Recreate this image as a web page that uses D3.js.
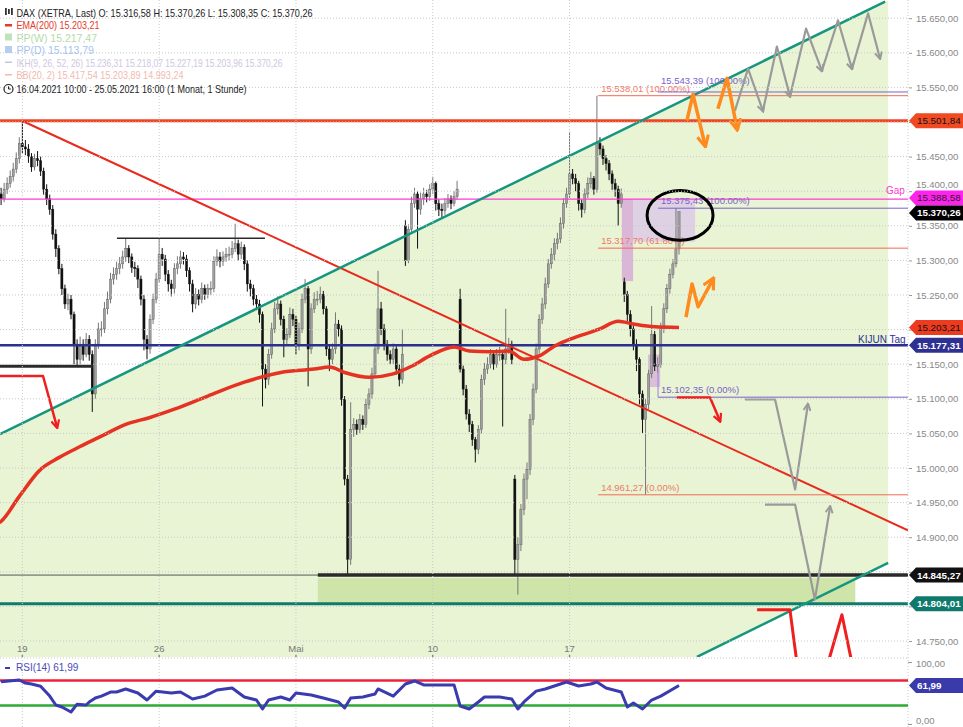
<!DOCTYPE html>
<html><head><meta charset="utf-8">
<script src="https://cdn.jsdelivr.net/npm/d3@7"></script>
<style>body{margin:0;background:#fff}svg{display:block;font-family:"Liberation Sans",Arial,sans-serif}</style>
</head><body><svg id="c" width="963" height="727"></svg>
<script>
// ---------- DATA ----------
const closes=[15382,15396,15389,15403,15411,15421,15432,15447,15469,15464,
15461,15450,15435,15447,15444,15429,15403,15389,15374,15338,
15317,15288,15259,15237,15244,15222,15179,15157,15179,15164,
15186,15164,15107,15179,15201,15201,15230,15244,15273,15280,
15288,15295,15305,15317,15305,15290,15288,15273,15244,15186,
15172,15215,15244,15273,15309,15302,15280,15266,15259,15288,
15295,15305,15302,15285,15266,15237,15251,15244,15259,15251,
15259,15259,15299,15305,15299,15305,15309,15309,15317,15324,
15309,15319,15295,15266,15259,15244,15237,15222,15143,15128,
15164,15201,15230,15237,15215,15186,15193,15222,15215,15179,
15201,15244,15259,15172,15230,15244,15244,15251,15230,15172,
15157,15172,15208,15201,15099,14984,14868,15056,15063,15056,
15070,15063,15092,15107,15136,15172,15230,15201,15179,15164,
15157,15172,15143,15128,15164,15300,15345,15382,15396,15374,
15389,15396,15392,15403,15411,15382,15374,15372,15382,15389,
15382,15392,15403,15143,15114,15078,15063,15041,15027,15056,
15128,15143,15150,15164,15150,15164,15164,15157,15172,15179,
15157,14868,14889,14940,14984,14998,15070,15114,15172,15215,
15237,15266,15295,15309,15324,15331,15353,15382,15396,15425,
15418,15411,15382,15374,15396,15411,15418,15403,15469,15461,
15447,15440,15425,15411,15403,15382,15396,15251,15222,15201,
15179,15157,15107,15070,15092,15136,15193,15147,15150,15201,
15230,15259,15280,15295,15316.58,15370.26];
const highs=[15392,15404,15405,15412,15420,15430,15441,15456,15478,15502,
15474,15468,15455,15454,15458,15450,15434,15410,15395,15380,
15345,15322,15295,15265,15252,15250,15226,15186,15190,15186,
15195,15192,15170,15186,15210,15212,15240,15255,15282,15290,
15298,15305,15314,15331,15322,15310,15298,15293,15278,15250,
15192,15222,15252,15282,15331,15318,15308,15286,15272,15296,
15306,15314,15312,15308,15290,15272,15260,15258,15268,15265,
15266,15270,15306,15316,15312,15313,15318,15320,15328,15353,
15330,15327,15323,15300,15272,15265,15250,15243,15226,15150,
15172,15210,15240,15248,15242,15220,15202,15232,15230,15220,
15210,15252,15273,15263,15238,15254,15256,15262,15256,15234,
15178,15180,15225,15214,15206,15104,14990,15095,15072,15070,
15078,15076,15100,15115,15145,15180,15285,15240,15208,15185,
15170,15180,15176,15150,15201,15358,15352,15392,15405,15400,
15398,15405,15402,15410,15421,15414,15388,15382,15390,15396,
15394,15400,15415,15259,15148,15120,15085,15068,15045,15062,
15135,15152,15160,15172,15170,15172,15175,15170,15230,15188,
15184,14990,14900,14948,14992,15008,15078,15122,15180,15222,
15246,15275,15302,15318,15332,15340,15362,15390,15405,15486,
15432,15425,15415,15388,15404,15420,15428,15422,15538.01,15478,
15466,15452,15445,15430,15418,15408,15404,15275,15256,15228,
15206,15186,15160,15112,15100,15142,15234,15198,15160,15210,
15238,15266,15288,15302,15375.43,15370.26];
const lows=[15368,15375,15380,15384,15396,15405,15414,15426,15440,15455,
15452,15441,15428,15430,15436,15422,15395,15380,15366,15330,
15305,15280,15250,15230,15228,15215,15150,15148,15150,15155,
15160,15155,15081,15100,15172,15190,15195,15222,15238,15265,
15272,15280,15288,15298,15296,15282,15276,15260,15235,15170,
15157,15165,15208,15238,15268,15292,15270,15255,15248,15252,
15280,15288,15294,15276,15255,15225,15230,15235,15238,15243,
15245,15250,15254,15292,15290,15292,15298,15300,15303,15312,
15300,15302,15286,15255,15248,15235,15228,15210,15089,15115,
15120,15158,15195,15222,15206,15160,15178,15188,15205,15164,
15170,15195,15238,15118,15165,15224,15235,15238,15222,15162,
15140,15150,15165,15190,15090,14975,14846,14860,15045,15048,
15050,15055,15058,15085,15100,15130,15165,15192,15170,15155,
15150,15150,15135,15118,15122,15292,15296,15340,15376,15317,
15366,15380,15384,15386,15396,15372,15364,15362,15366,15376,
15374,15378,15388,15138,15105,15070,15052,15032,15008,15020,
15050,15120,15136,15144,15142,15145,15155,15060,15150,15165,
15150,14846,14817,14880,14932,14955,14990,15062,15108,15165,
15208,15230,15260,15288,15300,15316,15325,15346,15376,15390,
15410,15400,15372,15362,15368,15390,15404,15395,15398,15452,
15438,15430,15416,15402,15392,15350,15376,15240,15212,15190,
15170,15140,15092,15050,14961.27,15085,15130,15140,15138,15145,
15195,15224,15252,15274,15290,15308.35];
// opening prices that differ from the previous close (gaps)
const gapOpenIdx=[0,135,153,171,207];
const gapOpenVal=[15375,15350,15244,14984,15269];

// EMA(200) read at bar positions
const emaIdx=[0,2,8,15,21,28,35,43,51,59,70,82,94,105,110,115,123,131,137,143,151,156,163,169,174,179,184,191,199,205,210,217,225];
const emaVal=[14918,14923,14959,14998,15015,15031,15046,15063,15073,15085,15104,15124,15138,15143,15146,15138,15131,15136,15147,15162,15175,15169,15168,15169,15157,15162,15176,15189,15201,15212,15208,15204,15203.21];

// RSI(14)
const rsiIdx=[2,8,10,12,15,18,20,22,25,27,30,31,33,35,38,40,43,47,50,53,58,61,65,69,73,78,82,86,88,90,94,97,99,104,108,113,115,117,121,125,126,131,135,138,141,146,151,153,156,159,161,166,170,172,174,178,181,184,188,192,196,198,201,206,208,210,213,216,219,225];
const rsiVal=[68,71,66,64.5,61,45,30.6,27.4,19.4,32,30.6,35.5,42,45,51.6,51.6,56.5,50,38.7,53,50,51.6,40.3,45,54.8,58,43.5,38.7,24.2,38.7,43.5,38.7,50,46.8,42,35.5,25.8,42,43.5,48.4,56.5,45,64.5,69.4,63,63,63,29,24.2,35.5,43.5,43.5,40.3,24.2,35.5,53,56.5,61.3,67.7,61.3,64.5,67.7,58,51.6,27.4,33.9,24.2,38.7,45,61.99];
const rsiLevels=[70,30];

// axes
const priceTicks=[15650,15600,15550,15500,15450,15400,15350,15300,15250,15200,15150,15100,15050,15000,14950,14900,14850,14800,14750];
const xTickIdx=[9,54,99,144,189];
const xTickLabels=["19","26","Mai","10","17"];

// horizontal levels
const levelVal=[15501.84,15388.58,15177.31,14804.01];
const levelColor=["#f04523","#ff3ad6","#2b2f8f","#0f7b6c"];
const levelWidth=[3,1.2,2.5,3];
const supportVal=14845.27, supportFromIdx=106.2;
// right-edge value boxes
const boxVal=[15501.84,15388.58,15370.26,15203.21,15177.31,14845.27,14804.01];
const boxBg=["#f04a23","#ff22ee","#000","#ec3b1f","#2e3192","#111","#0f7a6b"];
const boxFg=["#111","#222","#fff","#111","#fff","#fff","#fff"];

// trend lines [idx, price]
const redTrend=[[8.88,15501.84],[300.3,14910]];
const tealUpper=[[1.64,15049],[292.8,15674]];
const tealLower=[[230.9,14727],[293.8,14863]];
const channelFill=[[-3,15039],[293.8,15676],[293.8,14863],[-3,14221]];
const bandArea={i0:106.2,i1:283,p0:14841,p1:14804};
const leftSupport=[[-3,15147],[32.2,15147]];
const rangeTop=[[40.1,15332],[88.8,15332]];

// fibonacci levels
const fibRedVal=[15538.01,15317.70,14961.27];
const fibRedLbl=["15.538,01 (100.00%)","15.317,70 (61.80%)","14.961,27 (0.00%)"];
const fibRedFrom=198.4;
const fibPurVal=[15543.39,15375.43,15102.35];
const fibPurLbl=["15.543,39 (100.00%)","15.375,43 (100.00%)","15.102,35 (0.00%)"];
const fibPurFrom=218.1;

// shaded zones [i0,i1,p0,p1]
const zones=[[206.2,209.9,15388.58,15270],[209.9,230.3,15388.58,15327],[214.8,218.8,15164,15117]];
const zoneColor=["#d6a3d8","#dcc6ea","#d7aedb"];

// hand drawn arrows [idx, price]
const redArrows=[[[1.64,15133],[15.8,15133],[20.4,15059]],[[224.3,15102],[235.2,15102],[238.5,15068]]];
const redLines=[[[250.7,14795],[261.5,14795],[263.8,14718]],[[274,14718],[278.6,14788],[281.9,14718]]];
const grayArrows=[[[246.7,15099],[256.6,15099],[263.2,14969],[267.4,15092]],[[253.3,14947],[263.2,14947],[269.7,14810],[274.7,14944]]];
const grayZig=[[[243.4,15516],[247.7,15577],[252.6,15516]],[[252.6,15516],[257.2,15609],[261.5,15537]],[[261.5,15537],[266.8,15635],[272,15574]],[[272,15574],[277.3,15647],[281.9,15577]],[[281.9,15577],[287.2,15657],[291.1,15592]]];
const orangeArrows=[[[227.6,15502],[229.6,15540],[233.6,15466]],[[237.8,15519],[240.8,15563],[244.1,15490]],[[227.3,15218],[229.3,15266],[231.3,15233],[236.2,15273]]];
const ellipseBox=[214.5,236.2,15401,15329];

// ---------- DRAW ----------
const svg=d3.select("#c");
const plotR=908, plotB=657;
const x=d3.scaleLinear().domain([0,225]).range([-5,679]);
const y=d3.scaleLinear().domain([14750,15650]).range([641,18.2]);
const yr=d3.scaleLinear().domain([0,100]).range([724,662]);
const fmt=d3.formatLocale({decimal:",",thousands:".",grouping:[3],currency:["",""]}).format(",.2f");
const defs=svg.append("defs");
defs.append("clipPath").attr("id","cm").append("rect").attr("x",0).attr("y",0).attr("width",plotR).attr("height",plotB);
defs.append("clipPath").attr("id","cr").append("rect").attr("x",0).attr("y",659).attr("width",plotR).attr("height",68);
function mk(id,color){defs.append("marker").attr("id",id).attr("viewBox","0 0 10 10").attr("refX",8).attr("refY",5)
 .attr("markerWidth",4).attr("markerHeight",4).attr("orient","auto").append("path").attr("d","M1,1L9,5L1,9")
 .attr("fill","none").attr("stroke",color).attr("stroke-width",2.2).attr("stroke-linejoin","miter");}
mk("mRed","#f01e1e");mk("mGray","#9a9a9a");mk("mOr","#ff8a1e");

svg.append("rect").attr("width",963).attr("height",727).attr("fill","#fff");
const g=svg.append("g").attr("clip-path","url(#cm)");
const pl=d3.line().x(d=>x(d[0])).y(d=>y(d[1]));

// channel fill
g.append("path").attr("d",pl(channelFill)+"Z").attr("fill","#e8f4d4");
// band
g.append("rect").attr("x",x(bandArea.i0)).attr("y",y(bandArea.p0)).attr("width",x(bandArea.i1)-x(bandArea.i0))
 .attr("height",y(bandArea.p1)-y(bandArea.p0)).attr("fill","#cfe4a8");
// grid
const grid=svg.append("g").attr("stroke","#c9c9c9").attr("stroke-dasharray","1,2").attr("stroke-width",1);
priceTicks.forEach(p=>grid.append("line").attr("x1",0).attr("x2",plotR).attr("y1",y(p)).attr("y2",y(p)));
xTickIdx.forEach(i=>grid.append("line").attr("x1",x(i)).attr("x2",x(i)).attr("y1",0).attr("y2",727));
grid.append("line").attr("x1",plotR).attr("x2",plotR).attr("y1",0).attr("y2",727);
grid.append("line").attr("x1",0).attr("x2",plotR).attr("y1",658).attr("y2",658);
// zones
zones.forEach((z,k)=>g.append("rect").attr("x",x(z[0])).attr("y",y(z[2])).attr("width",x(z[1])-x(z[0]))
 .attr("height",y(z[3])-y(z[2])).attr("fill",zoneColor[k]).attr("opacity",0.75));

// candles
const gapMap=new Map(gapOpenIdx.map((d,k)=>[d,gapOpenVal[k]]));
const bars=closes.map((c,i)=>({i,c,h:highs[i],l:lows[i],o:gapMap.has(i)?gapMap.get(i):closes[i-1]}));
const cg=g.append("g");
cg.selectAll("line").data(bars).join("line").attr("x1",d=>x(d.i)).attr("x2",d=>x(d.i))
 .attr("y1",d=>y(d.h)).attr("y2",d=>y(d.l)).attr("stroke",d=>d.c>=d.o?"#777":"#111").attr("stroke-width",1);
cg.selectAll("rect").data(bars).join("rect").attr("x",d=>x(d.i)-1.1).attr("width",2.2)
 .attr("y",d=>y(Math.max(d.o,d.c))).attr("height",d=>Math.max(1,Math.abs(y(d.o)-y(d.c))))
 .attr("fill",d=>d.c>=d.o?"#a0a0a0":"#111").attr("stroke",d=>d.c>=d.o?"#555":"#111").attr("stroke-width",0.4);

// support lines
g.append("line").attr("x1",0).attr("x2",plotR).attr("y1",y(supportVal)).attr("y2",y(supportVal)).attr("stroke","#555").attr("stroke-width",1);
g.append("line").attr("x1",x(supportFromIdx)).attr("x2",plotR).attr("y1",y(supportVal)).attr("y2",y(supportVal)).attr("stroke","#2a2a2a").attr("stroke-width",3.5);
g.append("path").attr("d",pl(leftSupport)).attr("stroke","#2a2a2a").attr("stroke-width",3).attr("fill","none");
g.append("path").attr("d",pl(rangeTop)).attr("stroke","#2a2a2a").attr("stroke-width",1.6).attr("fill","none");
// levels
levelVal.forEach((v,k)=>g.append("line").attr("x1",0).attr("x2",plotR).attr("y1",y(v)).attr("y2",y(v))
 .attr("stroke",levelColor[k]).attr("stroke-width",levelWidth[k]));
// trend lines
g.append("path").attr("d",pl(redTrend)).attr("stroke","#e8291c").attr("stroke-width",2).attr("fill","none");
g.append("path").attr("d",pl(tealUpper)).attr("stroke","#17967f").attr("stroke-width",2.5).attr("fill","none");
g.append("path").attr("d",pl(tealLower)).attr("stroke","#17967f").attr("stroke-width",2.5).attr("fill","none");
// EMA
g.append("path").datum(emaIdx.map((d,k)=>[d,emaVal[k]])).attr("d",d3.line().x(d=>x(d[0])).y(d=>y(d[1])).curve(d3.curveMonotoneX))
 .attr("stroke","#e53222").attr("stroke-width",3.5).attr("fill","none");

// fib lines
fibRedVal.forEach((v,k)=>{g.append("line").attr("x1",x(fibRedFrom)).attr("x2",plotR).attr("y1",y(v)).attr("y2",y(v)).attr("stroke","#f26a55").attr("stroke-width",1);
 g.append("text").attr("x",x(fibRedFrom)+3).attr("y",y(v)-4).text(fibRedLbl[k]).attr("fill","#f07a66").attr("font-size",9.5);});
fibPurVal.forEach((v,k)=>{g.append("line").attr("x1",x(fibPurFrom)).attr("x2",plotR).attr("y1",y(v)).attr("y2",y(v)).attr("stroke","#7b62c8").attr("stroke-width",1);
 g.append("text").attr("x",x(fibPurFrom)+3).attr("y",y(v)-(k===0?8:4)).text(fibPurLbl[k]).attr("fill","#7b62c8").attr("font-size",9.5);});
g.append("line").attr("x1",x(fibPurFrom)).attr("x2",x(fibPurFrom)).attr("y1",y(fibPurVal[2])-26).attr("y2",y(fibPurVal[2])).attr("stroke","#9a86d6").attr("stroke-width",1);

// arrows
const drawP=(pts,color,w,m)=>{const p=g.append("path").attr("d",pl(pts)).attr("stroke",color).attr("stroke-width",w).attr("fill","none").attr("stroke-linejoin","round");if(m)p.attr("marker-end",`url(#${m})`);return p;};
redArrows.forEach(a=>drawP(a,"#f01e1e",2.5,"mRed"));
redLines.forEach(a=>drawP(a,"#f01e1e",3,null));
grayArrows.forEach(a=>drawP(a,"#9a9a9a",2.2,"mGray"));
grayZig.forEach(a=>drawP(a,"#9a9a9a",2.2,"mGray"));
orangeArrows.forEach(a=>drawP(a,"#ff8a1e",3.5,"mOr"));
// ellipse
g.append("ellipse").attr("cx",(x(ellipseBox[0])+x(ellipseBox[1]))/2).attr("cy",(y(ellipseBox[2])+y(ellipseBox[3]))/2)
 .attr("rx",(x(ellipseBox[1])-x(ellipseBox[0]))/2).attr("ry",(y(ellipseBox[3])-y(ellipseBox[2]))/2)
 .attr("fill","none").attr("stroke","#000").attr("stroke-width",3);
// in-chart labels
g.append("text").attr("x",886).attr("y",y(15388.58)-5).text("Gap").attr("fill","#ff33cc").attr("font-size",10);
g.append("text").attr("x",858).attr("y",y(15177.31)-2.5).text("KIJUN Tag").attr("fill","#2e3192").attr("font-size",10);

// legend
const lg=svg.append("g").attr("font-size",10.5);
const leg=[{t:"DAX (XETRA, Last)  O: 15.316,58  H: 15.370,26  L: 15.308,35  C: 15.370,26",c:"#222",w:296},
{t:"EMA(200)  15.203,21",c:"#e53a2a",w:83},
{t:"PP(W)  15.217,47",c:"#b4dbab",w:0},
{t:"PP(D)  15.113,79",c:"#a7c3f0",w:0},
{t:"IKH(9, 26, 52, 26)  15.236,31  15.218,07  15.227,19  15.203,96  15.370,26",c:"#cfc6e0",w:266},
{t:"BB(20, 2)  15.417,54  15.203,89  14.993,24",c:"#f2b9b0",w:167},
{t:"16.04.2021 10:00 - 25.05.2021 16:00   (1 Monat, 1 Stunde)",c:"#222",w:230}];
const legY=[16.5,29,41.5,54,66.5,79,92.5];
leg.forEach((d,k)=>{const t=lg.append("text").attr("x",16.5).attr("y",legY[k]).text(d.t).attr("fill",d.c);if(d.w)t.attr("textLength",d.w).attr("lengthAdjust","spacingAndGlyphs");});
// legend icons
[5,8,11].forEach((xx,k)=>lg.append("rect").attr("x",xx).attr("y",8+k%2).attr("width",1.8).attr("height",7-k%2*2).attr("fill","#333"));
lg.append("rect").attr("x",5).attr("y",24).attr("width",7).attr("height",2.5).attr("fill","#e53a2a");
lg.append("rect").attr("x",5).attr("y",33.5).attr("width",7).attr("height",7).attr("fill","#bfe3b6");
lg.append("rect").attr("x",5).attr("y",46).attr("width",7).attr("height",7).attr("fill","#b5cdf3");
lg.append("rect").attr("x",5).attr("y",61.5).attr("width",7).attr("height",1.5).attr("fill","#c6c6d6");
lg.append("rect").attr("x",5).attr("y",74).attr("width",7).attr("height",1.5).attr("fill","#f2b9b0");
lg.append("circle").attr("cx",8.5).attr("cy",89).attr("r",4.5).attr("fill","none").attr("stroke","#222").attr("stroke-width",1.2);
lg.append("path").attr("d","M8.5,86.3V89H10.8").attr("stroke","#222").attr("fill","none").attr("stroke-width",1);

// box positions (nudged apart where they would touch)
const boxY=boxVal.map(v=>y(v));
for(let k=1;k<boxY.length;k++){if(boxY[k]-boxY[k-1]<15){const d=(15-(boxY[k]-boxY[k-1]))/2;boxY[k-1]-=d;boxY[k]+=d;}}
// right axis
const ax=svg.append("g").attr("transform",`translate(${plotR},0)`)
 .call(d3.axisRight(y).tickValues(priceTicks).tickFormat(fmt).tickSize(4).tickPadding(4));
ax.select(".domain").remove();
ax.selectAll("text").attr("fill","#888").attr("font-size",9.5).attr("font-family","Liberation Sans, Arial, sans-serif");
ax.selectAll("line").attr("stroke","#999").attr("x1",1);
ax.selectAll(".tick").filter(p=>boxY.some(b=>Math.abs(b-y(p))<6)).select("text").remove();
// labels partly under a box are pushed clear of it
ax.selectAll(".tick").each(function(p){const b=boxY.find(b=>Math.abs(b-y(p))<13);if(b!==undefined){const t=d3.select(this).select("text");if(!t.empty()){const sh=y(p)<b?-(13-(b-y(p))):(13-(y(p)-b));t.attr("y",sh);}}});
// boxes
const box=(cy,bg,fg,txt)=>{svg.append("path").attr("d",`M${plotR+1},${cy}L${plotR+8},${cy-7.5}H963V${cy+7.5}H${plotR+8}Z`).attr("fill",bg);
 svg.append("text").attr("x",917).attr("y",cy+3.5).text(txt).attr("fill",fg).attr("font-size",9.8).attr("font-weight",fg==="#fff"?"bold":"normal");};
boxVal.forEach((v,k)=>box(boxY[k],boxBg[k],boxFg[k],fmt(v)));

// x labels
xTickIdx.forEach((i,k)=>{svg.append("text").attr("x",x(i)).attr("y",652).attr("text-anchor","middle").text(xTickLabels[k]).attr("fill","#777").attr("font-size",9.5);
 svg.append("rect").attr("x",x(i)-0.7).attr("y",655).attr("width",1.4).attr("height",2).attr("fill","#888");});

// RSI panel
const rg=svg.append("g").attr("clip-path","url(#cr)");
rg.append("line").attr("x1",0).attr("x2",plotR).attr("y1",yr(rsiLevels[0])).attr("y2",yr(rsiLevels[0])).attr("stroke","#f0203a").attr("stroke-width",2.5);
rg.append("line").attr("x1",0).attr("x2",plotR).attr("y1",yr(rsiLevels[1])).attr("y2",yr(rsiLevels[1])).attr("stroke","#2fa836").attr("stroke-width",2.5);
rg.append("path").datum(rsiIdx.map((d,k)=>[d,rsiVal[k]])).attr("d",d3.line().x(d=>x(d[0])).y(d=>yr(d[1])))
 .attr("stroke","#3b3bb0").attr("stroke-width",3).attr("fill","none").attr("stroke-linejoin","round");
svg.append("rect").attr("x",5).attr("y",667).attr("width",5).attr("height",2).attr("fill","#3b3bb0");
svg.append("text").attr("x",16).attr("y",671).text("RSI(14)  61,99").attr("fill","#4a4ab8").attr("font-size",10);
const rax=svg.append("g").attr("transform",`translate(${plotR},0)`).call(d3.axisRight(yr).tickValues([100,0]).tickFormat(fmt).tickSize(4).tickPadding(4));
rax.select(".domain").remove();
rax.selectAll("text").attr("fill","#888").attr("font-size",9.5).attr("dy",(p)=>p===0?"-0.05em":"0.5em");
rax.selectAll("line").attr("stroke","#999");
box(yr(61.99),"#3a3aaa","#fff","61,99");
</script></body></html>
